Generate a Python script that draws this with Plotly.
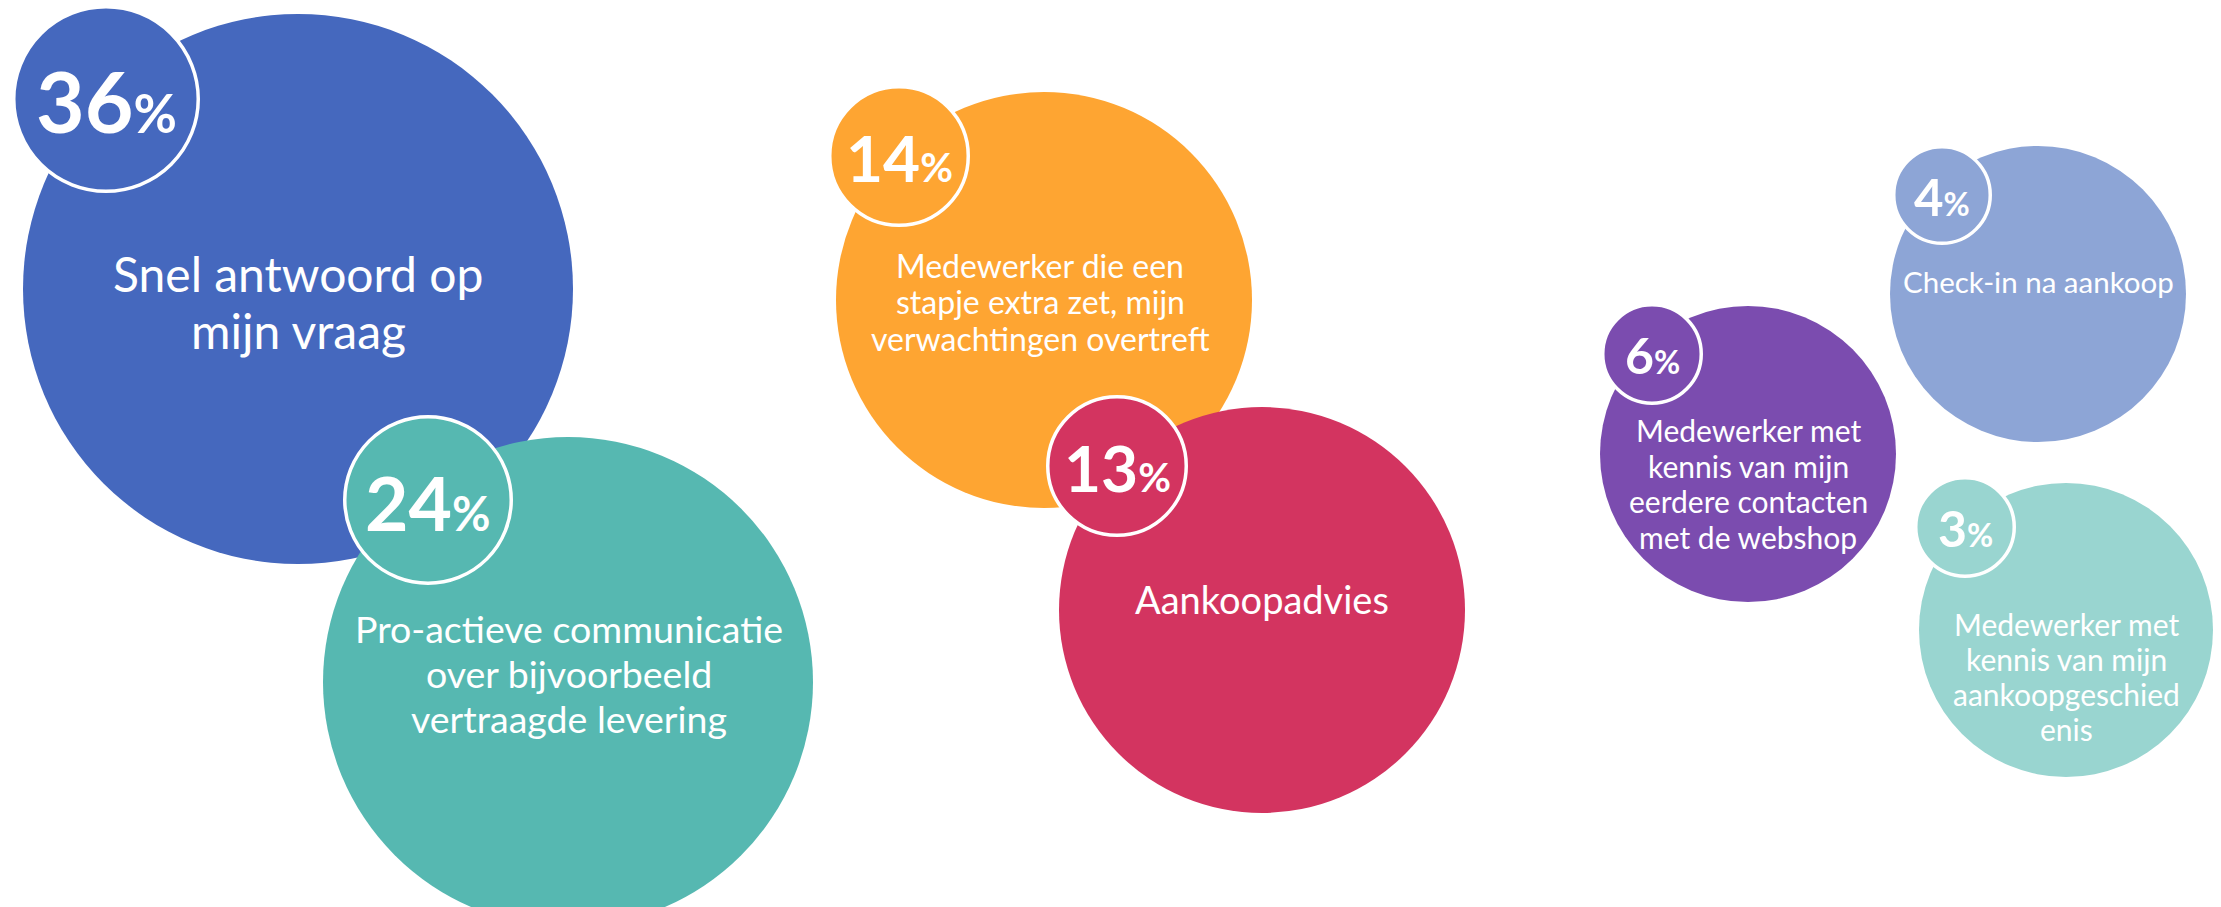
import plotly.graph_objects as go

# ---- data -------------------------------------------------------------
values = [36, 24, 14, 13, 6, 4, 3]
labels = [
    ["Snel antwoord op", "mijn vraag"],
    ["Pro-actieve communicatie", "over bijvoorbeeld", "vertraagde levering"],
    ["Medewerker die een", "stapje extra zet, mijn", "verwachtingen overtreft"],
    ["Aankoopadvies"],
    ["Medewerker met", "kennis van mijn", "eerdere contacten", "met de webshop"],
    ["Check-in na aankoop"],
    ["Medewerker met", "kennis van mijn", "aankoopgeschied", "enis"],
]
colors = ["#4568BE", "#56B8B1", "#FEA532", "#D33460", "#7B4CAF", "#8DA5D6", "#99D5D0"]

# ---- layout (pixel space of the canvas) -------------------------------
W, H = 2221, 907
bubble_x = [298, 568, 1044, 1262, 1748, 2038, 2066]
bubble_y = [289, 682, 300, 610, 454, 294, 630]
bubble_r = [275, 245, 208, 203, 148, 148, 147]

badge_x = [106, 428, 899, 1117, 1652, 1942, 1965]
badge_y = [99, 500, 156, 466, 354, 195, 527]
badge_r = [94, 85, 71, 71, 51, 50, 51]
badge_font = [84, 75, 64, 64, 50, 51, 50]

label_x = [298, 569, 1040, 1262, 1748, 2038, 2066]
label_base = [291, 642, 277, 613, 441, 292, 635]   # baseline of first line
label_font = [48, 37.5, 32, 38, 30, 29.5, 30]
label_gap = [57, 45, 36.5, 0, 35.5, 0, 35]

BORDER = 3.5
FONT = "Lato"

# interleave: main bubble, then its badge on top
xs, ys, sizes, fills, lws = [], [], [], [], []
for i in range(len(values)):
    xs += [bubble_x[i], badge_x[i]]
    ys += [bubble_y[i], badge_y[i]]
    sizes += [2 * bubble_r[i], 2 * badge_r[i] - BORDER]
    fills += [colors[i], colors[i]]
    lws += [0, BORDER]

fig = go.Figure()
fig.add_trace(go.Scatter(
    x=xs, y=ys, mode="markers",
    marker=dict(size=sizes, color=fills, opacity=1,
                line=dict(color="white", width=lws)),
    hoverinfo="skip", showlegend=False,
))

annotations = []
for i, v in enumerate(values):
    f = badge_font[i]
    pf = round(f * 0.63)
    annotations.append(dict(
        x=badge_x[i], y=badge_y[i] + 0.02 * f, xref="x", yref="y",
        text=f"<b>{v}<span style='font-size:{pf}px'>%</span></b>",
        showarrow=False, xanchor="center", yanchor="middle",
        font=dict(family=FONT, size=f, color="white"),
    ))
    fs = label_font[i]
    for j, line in enumerate(labels[i]):
        base = label_base[i] + j * label_gap[i]
        annotations.append(dict(
            x=label_x[i], y=base - 0.36 * fs, xref="x", yref="y",
            text=line, showarrow=False, xanchor="center", yanchor="middle",
            font=dict(family=FONT, size=fs, color="white"),
        ))

fig.update_layout(
    width=W, height=H,
    margin=dict(l=0, r=0, t=0, b=0),
    paper_bgcolor="white", plot_bgcolor="white",
    xaxis=dict(range=[0, W], visible=False, fixedrange=True),
    yaxis=dict(range=[H, 0], visible=False, fixedrange=True),
    annotations=annotations,
)

fig.write_html("out.html", config={"displayModeBar": False})
